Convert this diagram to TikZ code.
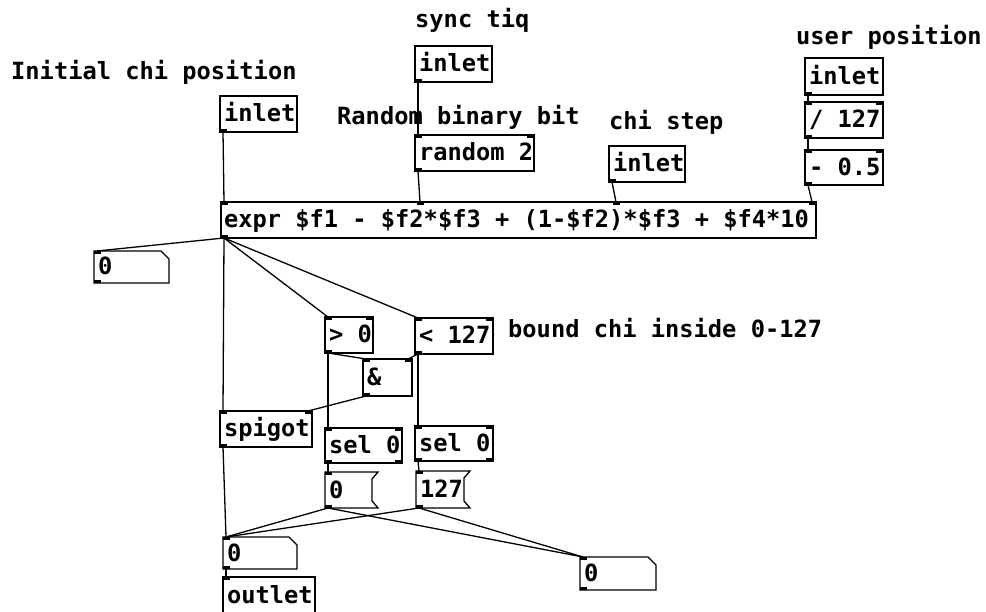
\documentclass[tikz,border=0pt]{standalone}
\usepackage{fontspec}
\setmainfont{DejaVu Sans Mono}
\usetikzlibrary{calc}
\newcommand\pdfnt{\fontsize{23.7}{28}\selectfont\bfseries\hbadness=10000\hfuzz=100pt}
\tikzset{
  boxline/.style={line width=1.3pt, draw=black},
  wire/.style={line width=1.3pt, draw=black},
  pdbox/.style={anchor=north west, inner xsep=4pt, inner ysep=0pt, outer sep=0pt,
    text height=19pt, text depth=3pt, align=flush left, font=\pdfnt},
  pdrect/.style={pdbox, boxline},
  lbl/.style={anchor=base west, inner sep=0pt, font=\pdfnt},
  port/.style={fill=black}
}
\newcommand\inlet[2]{\fill[port] ([xshift=#2pt]#1.north west) rectangle ++(7,2.6);}
\newcommand\inletr[1]{\fill[port] ([xshift=-7pt]#1.north east) rectangle ++(7,2.6);}
\newcommand\outlet[2]{\fill[port] ([xshift=#2pt]#1.south west) rectangle ++(7,-2.6);}
\newcommand\outletr[1]{\fill[port] ([xshift=-7pt]#1.south east) rectangle ++(7,-2.6);}
\begin{document}
\begin{tikzpicture}[x=1pt,y=-1pt]
\useasboundingbox[fill=white] (0,0) rectangle (986,612);

% labels
\node[lbl] (l1) at (11,80) {Initial chi position};
\node[lbl] (l2) at (415,28) {sync tiq};
\node[lbl] (l3) at (337,125) {Random binary bit};
\node[lbl] (l4) at (609,130) {chi step};
\node[lbl] (l5) at (796,45) {user position};
\node[lbl] (l6) at (508,338) {bound chi inside 0-127};

% rectangular objects
\node[pdrect, text width=69pt, minimum height=36pt] (inA) at (220,96) {\mbox{inlet}};
\node[pdrect, text width=69pt, minimum height=36pt] (inB) at (415,46) {\mbox{inlet}};
\node[pdrect, text width=111pt, minimum height=36pt] (rnd) at (415,135) {\mbox{random 2}};
\node[pdrect, text width=68pt, minimum height=36pt] (inC) at (609,146) {\mbox{inlet}};
\node[pdrect, text width=70pt, minimum height=37pt] (inD) at (805,58) {\mbox{inlet}};
\node[pdrect, text width=70pt, minimum height=36pt] (div) at (805,102) {\mbox{/ 127}};
\node[pdrect, text width=70pt, minimum height=35pt] (sub) at (805,150) {\mbox{- 0.5}};
\node[pdrect, minimum height=36pt, inner xsep=3pt, text width=589pt] (expr) at (221,202) {\mbox{expr \$f1 - \$f2*\$f3 + (1-\$f2)*\$f3 + \$f4*10}};
\node[pdrect, text width=40pt, minimum height=36pt] (gt) at (325,317) {\mbox{> 0}};
\node[pdrect, text width=70pt, minimum height=36pt] (lt) at (415,318) {\mbox{< 127}};
\node[pdrect, text width=41pt, minimum height=37pt] (and) at (363,359) {\mbox{\&}};
\node[pdrect, text width=84pt, minimum height=36pt] (spig) at (220,411) {\mbox{spigot}};
\node[pdrect, text width=69pt, minimum height=35pt] (selA) at (325,428) {\mbox{sel 0}};
\node[pdrect, text width=70pt, minimum height=35pt] (selB) at (415,426) {\mbox{sel 0}};

% number boxes
\node[pdbox, text width=67pt, minimum height=32pt] (numA) at (94,251) {0};
\node[pdbox, text width=66pt, minimum height=32pt] (numB) at (223,537) {0};
\node[pdbox, text width=68pt, minimum height=33pt] (numC) at (580,557) {0};
\foreach \n in {numA,numB,numC}{
  \draw[boxline] (\n.north west) -- ($(\n.north east)+(-8,0)$) -- ($(\n.north east)+(0,8)$)
    -- (\n.south east) -- (\n.south west) -- cycle;
}
% message boxes
\node[pdbox, text width=45pt, minimum height=36pt] (msgA) at (325,472) {0};
\node[pdbox, text width=46pt, minimum height=37pt] (msgB) at (416,471) {127};
\foreach \n in {msgA,msgB}{
  \draw[boxline] (\n.north west) -- (\n.north east) -- ($(\n.north east)+(-6,7)$)
    -- ($(\n.south east)+(-6,-7)$) -- (\n.south east) -- (\n.south west) -- cycle;
}
% outlet object (cut by the page edge)
\node[pdbox, text width=84pt, minimum height=36pt] (out) at (223,577) {outlet};
\draw[boxline] ([yshift=-10pt]out.south west) -- (out.north west) -- (out.north east) -- ([yshift=-10pt]out.south east);

% ports
\outlet{inA}{0} \outlet{inB}{0} \outlet{inC}{0} \outlet{inD}{0}
\inlet{rnd}{0} \inletr{rnd} \outlet{rnd}{0}
\inlet{div}{0} \inletr{div} \outlet{div}{0}
\inlet{sub}{0} \inletr{sub} \outlet{sub}{0}
\inlet{expr}{0} \inlet{expr}{196} \inlet{expr}{392} \inletr{expr} \outlet{expr}{0}
\inlet{gt}{0} \inletr{gt} \outlet{gt}{0}
\inlet{lt}{0} \inletr{lt} \outlet{lt}{0}
\inlet{and}{0} \inletr{and} \outlet{and}{0}
\inlet{spig}{0} \inletr{spig} \outlet{spig}{0}
\inlet{selA}{0} \inletr{selA} \outlet{selA}{0} \outletr{selA}
\inlet{selB}{0} \inletr{selB} \outlet{selB}{0} \outletr{selB}
\inlet{numA}{0} \outlet{numA}{0}
\inlet{numB}{0} \outlet{numB}{0}
\inlet{numC}{0} \outlet{numC}{0}
\inlet{msgA}{0} \outlet{msgA}{0}
\inlet{msgB}{0} \outlet{msgB}{0}
\inlet{out}{0}

% wires
\draw[wire] ([xshift=3pt]inA.south west) -- ([xshift=3pt]expr.north west);
\draw[wire] ([xshift=3pt]inB.south west) -- ([xshift=3pt]rnd.north west);
\draw[wire] ([xshift=3pt]rnd.south west) -- ([xshift=199pt]expr.north west);
\draw[wire] ([xshift=3pt]inC.south west) -- ([xshift=395pt]expr.north west);
\draw[wire] ([xshift=3pt]inD.south west) -- ([xshift=3pt]div.north west);
\draw[wire] ([xshift=3pt]div.south west) -- ([xshift=3pt]sub.north west);
\draw[wire] ([xshift=3pt]sub.south west) -- ([xshift=-4pt]expr.north east);
\draw[wire] ([xshift=3pt]expr.south west) -- ([xshift=3pt]numA.north west);
\draw[wire] ([xshift=3pt]expr.south west) -- ([xshift=3pt]gt.north west);
\draw[wire] ([xshift=3pt]expr.south west) -- ([xshift=3pt]lt.north west);
\draw[wire] ([xshift=3pt]expr.south west) -- ([xshift=3pt]spig.north west);
\draw[wire] ([xshift=3pt]gt.south west) -- ([xshift=3pt]and.north west);
\draw[wire] ([xshift=3pt]lt.south west) -- ([xshift=-4pt]and.north east);
\draw[wire] ([xshift=3pt]and.south west) -- ([xshift=-4pt]spig.north east);
\draw[wire] ([xshift=3pt]gt.south west) -- ([xshift=3pt]selA.north west);
\draw[wire] ([xshift=3pt]lt.south west) -- ([xshift=3pt]selB.north west);
\draw[wire] ([xshift=3pt]selA.south west) -- ([xshift=3pt]msgA.north west);
\draw[wire] ([xshift=3pt]selB.south west) -- ([xshift=3pt]msgB.north west);
\draw[wire] ([xshift=3pt]spig.south west) -- ([xshift=3pt]numB.north west);
\draw[wire] ([xshift=3pt]msgA.south west) -- ([xshift=3pt]numB.north west);
\draw[wire] ([xshift=3pt]msgB.south west) -- ([xshift=3pt]numB.north west);
\draw[wire] ([xshift=3pt]msgA.south west) -- ([xshift=3pt]numC.north west);
\draw[wire] ([xshift=3pt]msgB.south west) -- ([xshift=3pt]numC.north west);
\draw[wire] ([xshift=3pt]numB.south west) -- ([xshift=3pt]out.north west);
\end{tikzpicture}
\end{document}
